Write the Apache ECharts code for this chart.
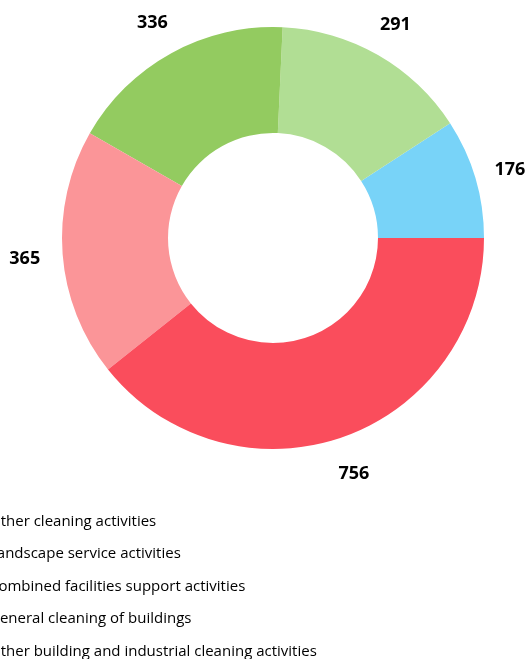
<!DOCTYPE html>
<html>
<head>
<meta charset="utf-8">
<script src="https://cdn.jsdelivr.net/npm/echarts@6/dist/echarts.min.js"></script>
<style>
  html, body { margin: 0; padding: 0; background: #fff; }
  #chart { width: 525px; height: 659px; }
</style>
</head>
<body>
<div id="chart"></div>
<script>
// activity categories, in the order they are drawn (counter-clockwise from 3 o'clock)
const categories = [
    'Other cleaning activities',
    'Landscape service activities',
    'Combined facilities support activities',
    'General cleaning of buildings',
    'Other building and industrial cleaning activities'
];
const counts = [176, 291, 336, 365, 756];
const colors = ['#78D3F8', '#B1DE94', '#93CB60', '#FB9598', '#FA4D5C'];

let data = categories.map(function (name, i) {
    return { name: name, value: counts[i] };
});

let chart = echarts.init(document.getElementById('chart'));

let option = {
    animation: false,
    color: colors,
    legend: {
        orient: 'vertical',
        left: -41,
        top: 514,
        height: 200,
        padding: 0,
        itemWidth: 25,
        itemHeight: 14,
        itemGap: 17.5,
        icon: 'rect',
        textStyle: {
            fontFamily: 'Open Sans',
            fontSize: 15,
            color: '#000'
        },
        data: categories
    },
    series: [
        {
            name: 'donut',
            type: 'pie',
            center: [273, 238],
            radius: [105, 211],
            startAngle: 0,
            clockwise: false,
            label: { show: false },
            labelLine: { show: false },
            data: data
        },
        {
            // ring that only carries the value labels
            name: 'labels',
            type: 'pie',
            center: [272, 240],
            radius: [235, 255],
            startAngle: 0,
            clockwise: false,
            silent: true,
            legendHoverLink: false,
            itemStyle: { color: 'rgba(0,0,0,0)' },
            label: {
                show: true,
                position: 'inside',
                formatter: '{c}',
                fontFamily: 'Open Sans',
                fontWeight: 'bold',
                fontSize: 18,
                color: '#000'
            },
            labelLine: { show: false },
            data: data
        }
    ]
};

chart.setOption(option);
</script>
</body>
</html>
